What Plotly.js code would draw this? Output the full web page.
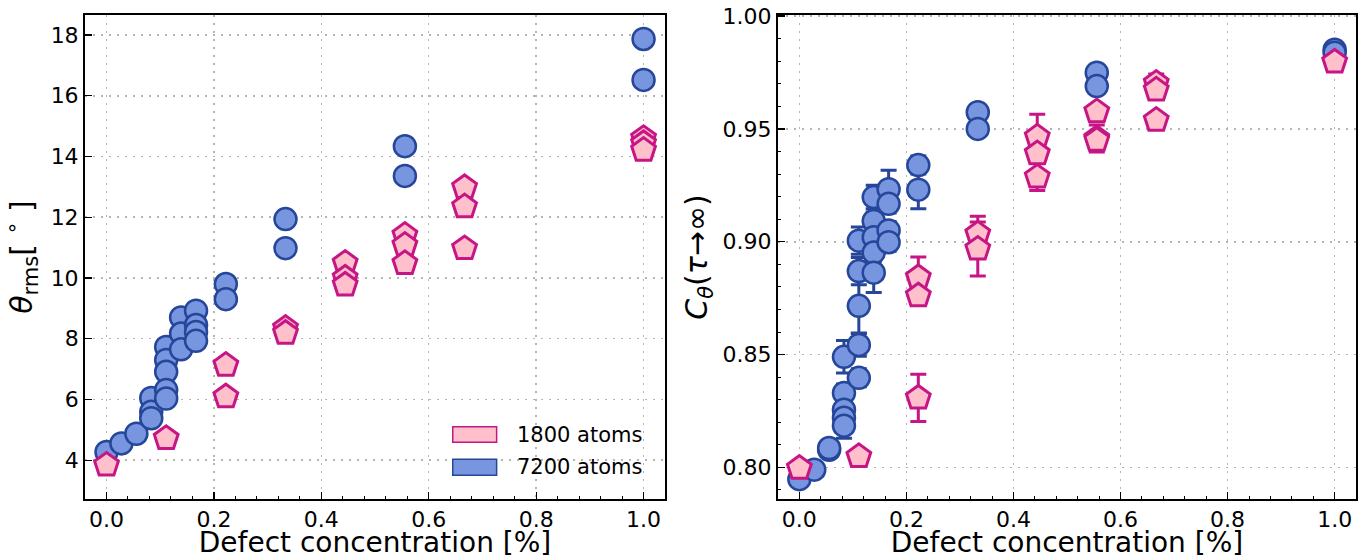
<!DOCTYPE html>
<html>
<head>
<meta charset="utf-8">
<script src="https://cdn.plot.ly/plotly-3.0.1.min.js"></script>
<style>html,body{margin:0;padding:0;background:#fff;}#chart{width:1367px;height:559px;}</style>
</head>
<body>
<div id="chart"></div>
<script>
// ---- Data: left panel, theta_rms [deg] ----
const concA_left = [0, 0.0278, 0.0556, 0.0833, 0.0833, 0.0833, 0.1111, 0.1111, 0.1111, 0.1111, 0.1111,
                    0.1389, 0.1389, 0.1389, 0.1667, 0.1667, 0.1667, 0.1667, 0.2222, 0.2222, 0.3333, 0.3333,
                    0.5556, 0.5556, 1.0, 1.0];
const theta7200 = [4.27, 4.55, 4.87, 6.05, 5.59, 5.38, 7.73, 7.30, 6.91, 6.31, 6.03,
                   8.70, 8.17, 7.65, 8.92, 8.45, 8.22, 7.93, 9.80, 9.30, 11.94, 10.98,
                   14.34, 13.36, 17.87, 16.52];
const concB_left = [0, 0.1111, 0.2222, 0.2222, 0.3333, 0.3333, 0.4444, 0.4444, 0.4444,
                    0.5556, 0.5556, 0.5556, 0.6667, 0.6667, 0.6667, 1.0, 1.0, 1.0];
const theta1800 = [3.84, 4.72, 7.13, 6.09, 8.35, 8.18, 10.49, 10.00, 9.77,
                   11.41, 11.08, 10.48, 12.98, 12.35, 10.97, 14.60, 14.43, 14.21];

// ---- Data: right panel, C_theta(tau -> inf) ----
const concA_right = [0, 0.0278, 0.0556, 0.0556, 0.0833, 0.0833, 0.0833, 0.0833, 0.0833,
                     0.1111, 0.1111, 0.1111, 0.1111, 0.1111, 0.1389, 0.1389, 0.1389, 0.1389, 0.1389,
                     0.1667, 0.1667, 0.1667, 0.1667, 0.2222, 0.2222, 0.3333, 0.3333, 0.5556, 0.5556, 1.0, 1.0];
const corr7200 = [0.7948, 0.7990, 0.8078, 0.8086, 0.8490, 0.8330, 0.8256, 0.8220, 0.8185,
                  0.9005, 0.8870, 0.8716, 0.8543, 0.8397, 0.9198, 0.9092, 0.9020, 0.8952, 0.8863,
                  0.9233, 0.9168, 0.9050, 0.8998, 0.9340, 0.9231, 0.9574, 0.9500, 0.9749, 0.9690, 0.9851, 0.9838];
const err7200 = [0.002, 0.002, 0.002, 0.002, 0.0072, 0.004, 0.004, 0.004, 0.0056,
                 0.006, 0.006, 0.012, 0.005, 0.004, 0.0052, 0.004, 0.004, 0.004, 0.0088,
                 0.0084, 0.004, 0.004, 0.004, 0.004, 0.0085, 0.002, 0.002, 0.002, 0.002, 0.001, 0.001];
const concB_right = [0, 0.1111, 0.2222, 0.2222, 0.2222, 0.3333, 0.3333, 0.4444, 0.4444, 0.4444,
                     0.5556, 0.5556, 0.5556, 0.6667, 0.6667, 0.6667, 1.0];
const corr1800 = [0.7997, 0.8049, 0.8842, 0.8761, 0.8308, 0.9035, 0.8968, 0.9465, 0.9391, 0.9287,
                  0.9577, 0.9458, 0.9450, 0.9703, 0.9673, 0.9539, 0.9797];
const err1800 = [0.001, 0.001, 0.009, 0.003, 0.0105, 0.0078, 0.012, 0.010, 0.004, 0.006,
                 0.002, 0.006, 0.003, 0.004, 0.003, 0.003, 0.002];

const legendLabels = ['1800 atoms', '7200 atoms'];
const xTitle = 'Defect concentration [%]';
const xTicks = [0, 0.2, 0.4, 0.6, 0.8, 1.0];

// ---- Styles ----
const BLUE_FILL = '#7896e0', BLUE_EDGE = '#26469a';
const PINK_FILL = '#ffc0cb', PINK_EDGE = '#c71585';
const FONT = 'DejaVu Sans, Liberation Sans, sans-serif';
const circleMarker = {symbol: 'circle', size: 22, color: BLUE_FILL, line: {color: BLUE_EDGE, width: 2.5}};
const pentMarker = {symbol: 'pentagon', size: 25, color: PINK_FILL, line: {color: PINK_EDGE, width: 3}};

const traces = [
  {x: concA_left, y: theta7200, type: 'scatter', mode: 'markers', marker: circleMarker,
   name: legendLabels[1], xaxis: 'x', yaxis: 'y', showlegend: false, cliponaxis: false},
  {x: concB_left, y: theta1800, type: 'scatter', mode: 'markers', marker: pentMarker,
   name: legendLabels[0], xaxis: 'x', yaxis: 'y', showlegend: false, cliponaxis: false},
  {x: concA_right, y: corr7200, type: 'scatter', mode: 'markers', marker: circleMarker,
   error_y: {type: 'data', array: err7200, visible: true, color: BLUE_EDGE, thickness: 3, width: 8},
   name: legendLabels[1], xaxis: 'x2', yaxis: 'y2', showlegend: false, cliponaxis: false},
  {x: concB_right, y: corr1800, type: 'scatter', mode: 'markers', marker: pentMarker,
   error_y: {type: 'data', array: err1800, visible: true, color: PINK_EDGE, thickness: 3, width: 8},
   name: legendLabels[0], xaxis: 'x2', yaxis: 'y2', showlegend: false, cliponaxis: false}
];

const gridCommon = {showgrid: true, gridcolor: '#b4b4b4', gridwidth: 1.5, griddash: '2px,6px'};
const axisCommon = Object.assign({
  showline: true, linecolor: 'black', linewidth: 2, mirror: true,
  ticks: 'inside', ticklen: 7, tickwidth: 1.3, tickcolor: 'black',
  zeroline: false, tickfont: {family: FONT, size: 22, color: 'black'}
}, gridCommon);

function xAxis(domain) {
  return Object.assign({}, axisCommon, {
    domain: domain, range: [-0.04, 1.04], tickvals: xTicks, tickformat: '.1f',
    minor: {dtick: 0.04, tick0: 0, ticks: 'inside', ticklen: 3.5, tickwidth: 1, tickcolor: 'black', showgrid: false},
    title: {text: xTitle, font: {family: FONT, size: 28, color: 'black'}}
  });
}

const layout = {
  width: 1367, height: 559,
  margin: {l: 0, r: 0, t: 0, b: 0},
  paper_bgcolor: 'white', plot_bgcolor: 'white',
  showlegend: false,
  xaxis: xAxis([0.0622, 0.4865]),
  xaxis2: Object.assign(xAxis([0.5691, 0.992]), {anchor: 'y2'}),
  yaxis: Object.assign({}, axisCommon, {
    domain: [0.1073, 0.9732], range: [2.72, 18.66], dtick: 2, tick0: 0,
    title: {text: '<i>θ</i><sub>rms</sub>[ <sup>∘</sup> ]', font: {family: FONT, size: 30, color: 'black'}}
  }),
  yaxis2: Object.assign({}, axisCommon, {
    domain: [0.1073, 0.9732], range: [0.786, 1.0005], dtick: 0.05, tick0: 0, tickformat: '.2f',
    anchor: 'x2',
    minor: {dtick: 0.01, tick0: 0, ticks: 'inside', ticklen: 3.5, tickwidth: 1, tickcolor: 'black', showgrid: false},
    title: {text: '<i>C</i><sub><i>θ</i></sub>(<i>τ</i>→∞)', font: {family: FONT, size: 30, color: 'black'}}
  }),
  shapes: [
    {type: 'rect', xref: 'paper', yref: 'paper', x0: 0.3312, x1: 0.3633, y0: 0.2088, y1: 0.2367,
     fillcolor: PINK_FILL, line: {color: PINK_EDGE, width: 1.5}},
    {type: 'rect', xref: 'paper', yref: 'paper', x0: 0.3312, x1: 0.3633, y0: 0.1497, y1: 0.1784,
     fillcolor: BLUE_FILL, line: {color: BLUE_EDGE, width: 1.5}}
  ],
  annotations: [
    {xref: 'paper', yref: 'paper', x: 0.3767, y: 0.2218, xanchor: 'left', yanchor: 'middle', showarrow: false,
     text: legendLabels[0], font: {family: FONT, size: 21, color: 'black'}},
    {xref: 'paper', yref: 'paper', x: 0.3767, y: 0.1646, xanchor: 'left', yanchor: 'middle', showarrow: false,
     text: legendLabels[1], font: {family: FONT, size: 21, color: 'black'}}
  ]
};

Plotly.newPlot('chart', traces, layout, {staticPlot: true, displayModeBar: false});
</script>
</body>
</html>
